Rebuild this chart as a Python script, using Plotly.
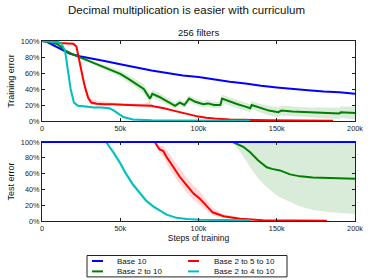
import plotly.graph_objects as go

# ---------------- data (x in thousands of training steps, y in %) ----------------
series_names = ["Base 10", "Base 2 to 10", "Base 2 to 5 to 10", "Base 2 to 4 to 10"]
series_colors = ["#0000ff", "#008000", "#ff0000", "#00bfbf"]
band_colors = ["rgba(0,0,255,0.15)", "rgba(0,128,0,0.15)", "rgba(255,0,0,0.15)", "rgba(0,191,191,0.15)"]

x_tick_vals = [0, 50, 100, 150, 200]
x_tick_text = ["0", "50k", "100k", "150k", "200k"]
y_tick_vals = [0, 20, 40, 60, 80, 100]
y_tick_text = ["0%", "20%", "40%", "60%", "80%", "100%"]

# Training error
blue_train_x = [0, 3, 7, 12, 18, 24, 30, 40, 50, 60, 70, 80, 90, 100, 110, 120, 130, 140, 150, 160, 170, 180, 190, 200]
blue_train_y = [100, 99, 95, 90, 84, 81, 79, 75, 71, 67, 63, 60, 57, 55, 52, 49, 47, 44, 42, 40, 38.5, 37, 36, 34]

green_train_x = [0, 5, 10, 15, 20, 25, 30, 35, 40, 45, 50, 55, 60, 65, 69, 70.5, 75, 80, 85, 88, 91, 94, 98, 103, 106,
                 110, 114, 115, 120, 125, 130, 133, 134, 140, 145, 151, 153, 160, 170, 180, 190, 191, 200]
green_train_y = [100, 99, 96, 88, 83, 79, 75, 71, 67, 63, 59, 53, 47, 40, 28, 34, 30, 25, 19, 23, 20, 28, 24, 21, 22,
                 20, 20, 28, 24, 21, 18, 16, 20, 16, 13, 11, 13, 12, 11, 10, 9.5, 11, 10]
green_train_hi = [100, 99, 96, 89, 84, 80, 77, 73, 70, 67, 63, 58, 52, 46, 34, 39, 35, 29, 23, 27, 24, 32, 28, 25, 26,
                  24, 24, 33, 29, 26, 23, 21, 25, 21, 19, 17, 19, 18, 17, 17, 16.5, 18, 18]
green_train_lo = [100, 99, 96, 87, 82, 78, 73, 69, 64, 59, 55, 48, 42, 34, 22, 29, 25, 21, 15, 19, 16, 24, 20, 17, 18,
                  16, 16, 23, 19, 16, 13, 11, 15, 11, 7, 5, 7, 6, 5, 3, 2.5, 4, 2]

red_train_x = [0, 8, 11, 15, 20, 22, 24, 26, 27.5, 29.5, 31.5, 35, 40, 45, 55, 65, 68, 70, 72, 78, 84, 90, 95, 100,
               105, 110, 120, 130, 145, 165, 186]
red_train_y = [100, 100, 97.5, 97, 96.5, 93, 76, 55, 42, 29, 23, 21.5, 21, 21, 20, 19.5, 19, 19, 18, 16, 13, 10, 8,
               5.5, 4, 3, 2, 1.3, 0.8, 0.5, 0.3]
red_train_hi = [100, 100, 98, 97.5, 97, 94, 79, 59, 46, 33, 27, 25.5, 24, 23, 22, 21.5, 24, 22, 19, 17, 14, 11, 9,
                6.5, 5, 4, 2.5, 1.8, 1.1, 0.7, 0.4]
red_train_lo = [100, 100, 97, 96.5, 96, 92, 73, 51, 38, 25, 20, 19.5, 19, 20, 19, 18.5, 18, 18, 17, 15, 12, 9, 7,
                4.5, 3, 2, 1.5, 0.8, 0.5, 0.3, 0.2]

cyan_train_x = [0, 10, 12, 14.7, 16.8, 18.3, 20.4, 23, 28, 33, 38, 43, 46, 48, 52, 58, 65, 70, 80, 90, 110, 133]
cyan_train_y = [100, 99, 98, 88, 63, 40, 23, 19, 18, 17, 17, 16, 13, 10, 5, 2, 1.2, 0.8, 0.5, 0.3, 0.2, 0.2]
cyan_train_hi = [100, 99.5, 99, 90, 67, 44, 25, 21, 19.5, 18.5, 18.5, 17.5, 15, 12, 6, 3, 1.7, 1.2, 0.8, 0.5, 0.3, 0.3]
cyan_train_lo = [100, 98.5, 97, 86, 59, 36, 21, 17, 16.5, 15.5, 15.5, 14.5, 11, 8, 4, 1, 0.7, 0.4, 0.2, 0.1, 0.1, 0.1]

# Test error
blue_test_x = [0, 50, 100, 150, 200]
blue_test_y = [100, 100, 100, 100, 100]

green_test_x = [0, 60, 122, 128.6, 133, 138, 143.6, 147, 152, 158.5, 165, 173, 184, 200]
green_test_y = [100, 100, 100, 94, 87, 77, 68, 66, 64, 59, 56.5, 55, 54, 53.5]
green_test_hi = [100, 100, 100, 100, 100, 100, 100, 100, 100, 100, 100, 100, 100, 100]
green_test_lo = [100, 100, 99, 82, 68, 54, 43, 37, 30, 24, 18.5, 14, 11, 9]

red_test_x = [0, 72, 74, 75, 77.5, 79.6, 84, 88, 92.5, 96.7, 101, 105, 109, 116, 126.5, 141, 160, 182]
red_test_y = [100, 100, 94, 91, 88.6, 81, 68, 56, 45, 35, 28, 20, 11, 6, 3, 1, 0.5, 0.3]
red_test_hi = [100, 100, 97, 96, 95, 90, 78, 66, 55, 45, 37, 27, 16, 9, 4.5, 1.5, 0.8, 0.4]
red_test_lo = [100, 100, 91, 86, 82, 72, 59, 47, 36, 27, 20, 14, 7, 4, 2, 0.6, 0.3, 0.2]

cyan_test_x = [0, 41, 43, 45.6, 50, 53.6, 57.8, 62, 66.4, 71, 75, 79.6, 86, 92.5, 101, 115, 133]
cyan_test_y = [100, 100, 94, 87, 73, 60, 47, 37, 26, 18.6, 13.5, 8, 4, 2.4, 1.5, 1, 0.8]
cyan_test_hi = [100, 100, 97, 91, 77, 64, 51, 40, 29, 21, 15, 9.5, 5, 3, 2, 1.3, 1]
cyan_test_lo = [100, 100, 91, 83, 69, 56, 43, 34, 23, 16, 12, 6.5, 3, 1.8, 1, 0.7, 0.6]

# ---------------- figure ----------------
FONT = "Liberation Sans, Arial, sans-serif"
fig = go.Figure()


def add_band(x, lo, hi, color, xa, ya):
    fig.add_trace(go.Scatter(x=x, y=hi, xaxis=xa, yaxis=ya, mode="lines", line=dict(width=0),
                             showlegend=False, hoverinfo="skip"))
    fig.add_trace(go.Scatter(x=x, y=lo, xaxis=xa, yaxis=ya, mode="lines", line=dict(width=0),
                             fill="tonexty", fillcolor=color, showlegend=False, hoverinfo="skip"))


def add_line(x, y, i, xa, ya):
    fig.add_trace(go.Scatter(x=x, y=y, xaxis=xa, yaxis=ya, mode="lines", name=series_names[i],
                             line=dict(color=series_colors[i], width=2), showlegend=False))


# top: training error
add_band(green_train_x, green_train_lo, green_train_hi, band_colors[1], "x", "y")
add_band(red_train_x, red_train_lo, red_train_hi, band_colors[2], "x", "y")
add_band(cyan_train_x, cyan_train_lo, cyan_train_hi, band_colors[3], "x", "y")
add_line(blue_train_x, blue_train_y, 0, "x", "y")
add_line(green_train_x, green_train_y, 1, "x", "y")
add_line(red_train_x, red_train_y, 2, "x", "y")
add_line(cyan_train_x, cyan_train_y, 3, "x", "y")

# bottom: test error
add_band(green_test_x, green_test_lo, green_test_hi, band_colors[1], "x2", "y2")
add_band(red_test_x, red_test_lo, red_test_hi, band_colors[2], "x2", "y2")
add_band(cyan_test_x, cyan_test_lo, cyan_test_hi, band_colors[3], "x2", "y2")
add_line(green_test_x, green_test_y, 1, "x2", "y2")
add_line(red_test_x, red_test_y, 2, "x2", "y2")
add_line(cyan_test_x, cyan_test_y, 3, "x2", "y2")
add_line(blue_test_x, blue_test_y, 0, "x2", "y2")

axis_common = dict(showline=True, linecolor="#222222", linewidth=1, mirror="ticks", ticks="inside",
                   ticklen=3, tickcolor="#222222", showgrid=False, zeroline=False, automargin=False,
                   tickfont=dict(family=FONT, size=7.3, color="#222222"))

fig.update_layout(
    width=373, height=280,
    margin=dict(l=42, r=18, t=41, b=59, autoexpand=False),
    paper_bgcolor="white", plot_bgcolor="white",
    font=dict(family=FONT, color="#111111"),
    showlegend=False,
    title=dict(text="Decimal multiplication is easier with curriculum", x=0.5, xanchor="center",
               y=1 - 10 / 280, yanchor="middle", font=dict(family=FONT, size=11.5, color="#111111")),
    xaxis=dict(domain=[0, 1], anchor="y", range=[0, 200], tickvals=x_tick_vals, ticktext=x_tick_text,
               **axis_common),
    yaxis=dict(domain=[100 / 180, 1], anchor="x", range=[0, 100], tickvals=y_tick_vals, ticktext=y_tick_text,
               title=dict(text="Training error", standoff=4, font=dict(family=FONT, size=9, color="#111111")),
               **axis_common),
    xaxis2=dict(domain=[0, 1], anchor="y2", range=[0, 200], tickvals=x_tick_vals, ticktext=x_tick_text,
                title=dict(text="Steps of training", standoff=2, font=dict(family=FONT, size=8.5, color="#111111")),
                **axis_common),
    yaxis2=dict(domain=[0, 79 / 180], anchor="x2", range=[0, 100], tickvals=y_tick_vals, ticktext=y_tick_text,
                title=dict(text="Test error", standoff=4, font=dict(family=FONT, size=9, color="#111111")),
                **axis_common),
)

# subplot title
fig.add_annotation(text="256 filters", xref="paper", yref="paper", x=0.5, y=1 + 8 / 180,
                   xanchor="center", yanchor="middle", showarrow=False,
                   font=dict(family=FONT, size=9.5, color="#111111"))


# legend drawn in paper coordinates (box + 2 columns)
def px_x(px):
    return (px - 42) / 313


def px_y(py):
    return (221 - py) / 180


LEG_FONT = 8
row_gap = LEG_FONT * 1.3
row1 = 261
row2 = row1 + row_gap
fig.add_shape(type="rect", xref="paper", yref="paper", x0=px_x(87), x1=px_x(287),
              y0=px_y(row1 - 5.5), y1=px_y(row2 + 5.5),
              line=dict(color="#222222", width=1), fillcolor="white", layer="above")
columns = [(92, 116, [0, 1]), (188, 213, [2, 3])]
for lx, tx, idx in columns:
    for r, i in enumerate(idx):
        ly = row1 + r * row_gap
        fig.add_shape(type="line", xref="paper", yref="paper", x0=px_x(lx), x1=px_x(lx + 11),
                      y0=px_y(ly), y1=px_y(ly), line=dict(color=series_colors[i], width=2))
    fig.add_annotation(text="<br>".join(series_names[i] for i in idx), xref="paper", yref="paper",
                       x=px_x(tx), y=px_y((row1 + row2) / 2), xanchor="left", yanchor="middle",
                       align="left", showarrow=False, borderpad=0,
                       font=dict(family=FONT, size=LEG_FONT, color="#111111"))

fig.write_html("out.html", config={"displayModeBar": False},
               post_script="document.body.style.margin='0';")
